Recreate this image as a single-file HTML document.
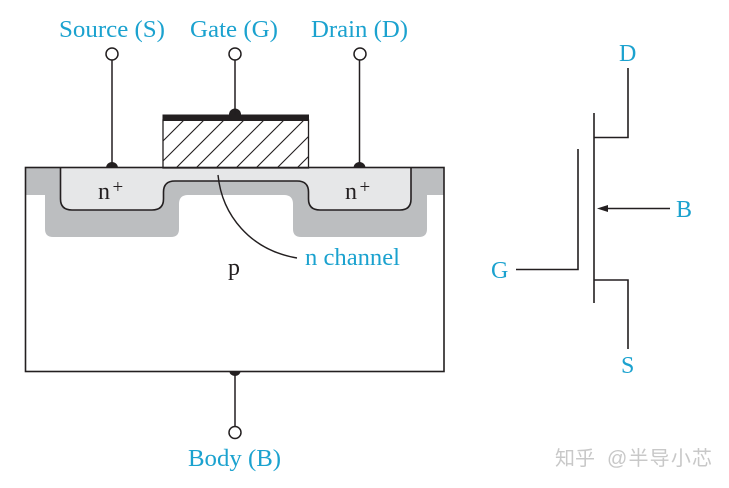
<!DOCTYPE html>
<html>
<head>
<meta charset="utf-8">
<style>
html,body{margin:0;padding:0;background:#fff;width:729px;height:488px;overflow:hidden}
svg{display:block}
.c{font-family:"Liberation Serif",serif;fill:#1ba2cf;font-size:24px}
.k{font-family:"Liberation Serif",serif;fill:#231f20}
.w{font-family:"Liberation Sans","Noto Sans CJK SC",sans-serif;fill:#c8c8c8;font-size:20px}
</style>
</head>
<body>
<svg width="729" height="488" viewBox="0 0 729 488" xmlns="http://www.w3.org/2000/svg">
<defs><clipPath id="g"><rect x="163.500" y="121" width="145" height="47"/></clipPath></defs>

<!-- p-type gray diffusion -->
<path d="M25.500 168H444V195H427V229Q427 237 419 237H301Q293 237 293 229V204Q293 195 284 195H188Q179 195 179 204V229Q179 237 171 237H53Q45 237 45 229V195H25.500Z" fill="#bcbec0"/>
<!-- n+ regions and channel -->
<path d="M60.500 168H411V199Q411 210 400 210H320Q308.500 210 308.500 199V192Q308.500 181 297 181H175Q163.500 181 163.500 192V199Q163.500 210 152 210H72Q60.500 210 60.500 199Z" fill="#e6e7e8"/>
<path d="M60.500 168V199Q60.500 210 72 210H152Q163.500 210 163.500 199V192Q163.500 181 175 181H297Q308.500 181 308.500 192V199Q308.500 210 320 210H400Q411 210 411 199V168" fill="none" stroke="#231f20" stroke-width="1.600"/>

<!-- gate -->
<g clip-path="url(#g)" stroke="#231f20" stroke-width="1.100" fill="none">
<path d="M116 168L176 108M136 168L196 108M156 168L216 108M176 168L236 108M196 168L256 108M216 168L276 108M236 168L296 108M256 168L316 108M277 168L337 108M297 168L357 108"/>
</g>
<rect x="163" y="120" width="145.500" height="48" fill="none" stroke="#231f20" stroke-width="1.300"/>
<rect x="162.500" y="114.500" width="146.500" height="6.500" fill="#231f20"/>

<!-- body outline -->
<rect x="25.500" y="167.500" width="418.500" height="204" fill="none" stroke="#231f20" stroke-width="1.600"/>

<!-- contacts -->
<g fill="#231f20">
<path d="M106 168A6 6 0 0 1 118 168Z"/>
<path d="M353.500 168A6 6 0 0 1 365.500 168Z"/>
<circle cx="235" cy="114.500" r="6"/>
<path d="M229.500 371.500A5.500 4.500 0 0 0 240.500 371.500Z"/>
</g>
<g stroke="#231f20" stroke-width="1.500" fill="none">
<path d="M112 60V168M235 60V115M359.500 60V168M235 372V426"/>
<circle cx="112" cy="54" r="6" fill="#fff"/>
<circle cx="235" cy="54" r="6" fill="#fff"/>
<circle cx="360" cy="54" r="6" fill="#fff"/>
<circle cx="235" cy="432.500" r="6" fill="#fff"/>
</g>

<!-- channel leader -->
<path d="M218 175C222 215 250 250 297 258" fill="none" stroke="#231f20" stroke-width="1.400"/>

<!-- labels -->
<text class="c" x="59" y="37" textLength="106" lengthAdjust="spacingAndGlyphs">Source (S)</text>
<text class="c" x="190" y="37" textLength="88" lengthAdjust="spacingAndGlyphs">Gate (G)</text>
<text class="c" x="311" y="37" textLength="97" lengthAdjust="spacingAndGlyphs">Drain (D)</text>
<text class="c" x="188" y="466" textLength="93" lengthAdjust="spacingAndGlyphs">Body (B)</text>
<text class="c" x="305" y="265" textLength="95" lengthAdjust="spacingAndGlyphs">n channel</text>
<text class="k" x="98" y="199" font-size="24">n</text>
<text class="k" x="112.500" y="193" font-size="19">+</text>
<text class="k" x="345" y="199" font-size="24">n</text>
<text class="k" x="359.500" y="193" font-size="19">+</text>
<text class="k" x="228" y="275" font-size="24">p</text>

<!-- MOSFET symbol -->
<g stroke="#231f20" stroke-width="1.600" fill="none">
<path d="M594 113V303"/>
<path d="M594 137.500H628V68"/>
<path d="M594 280H628V349"/>
<path d="M578 149V269.500H516"/>
<path d="M606 208.500H670"/>
</g>
<path d="M597 208.500L608 205V212Z" fill="#231f20"/>
<text class="c" x="619" y="61">D</text>
<text class="c" x="676" y="217">B</text>
<text class="c" x="491" y="278">G</text>
<text class="c" x="621" y="373">S</text>

<!-- watermark -->
<text class="w" x="555" y="465">知乎</text>
<text class="w" x="607" y="465" textLength="105">@半导小芯</text>
</svg>
</body>
</html>
